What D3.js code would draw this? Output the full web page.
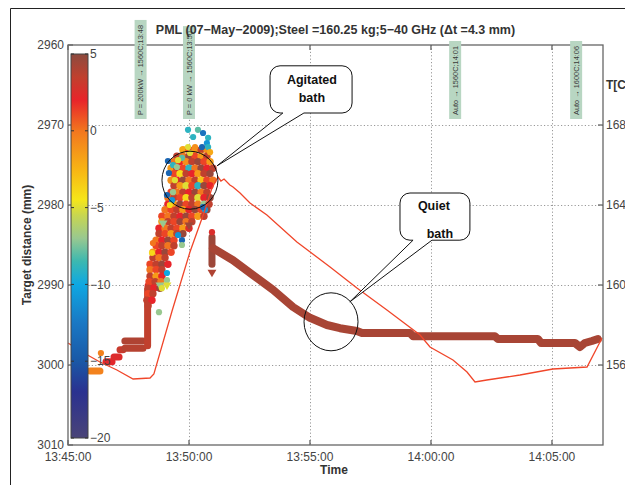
<!DOCTYPE html>
<html lang="en">
<head>
<meta charset="UTF-8">
<title>PML target distance</title>
<script src="https://d3js.org/d3.v7.min.js"></script>
<style>
  body { margin: 0; background: #fff; }
  text { font-family: "Liberation Sans", Arial, sans-serif; }
</style>
</head>
<body>
<script>
// times are minutes after 13:45:00, distances in mm, colour values in colourbar units
const tempTime = [0, 0.66, 1.32, 2.02, 2.69, 3.39, 3.55, 4.30, 5.04, 5.66, 5.95, 6.20, 6.32, 6.45, 6.69, 6.82, 7.11, 7.52, 8.22, 9.46, 10.83, 11.94, 13.18, 14.55, 14.96, 15.91, 16.49, 16.82, 17.31, 18.68, 20.04, 21.45, 22.07];
const tempC = [1571, 1566, 1561.5, 1557.5, 1553, 1553.5, 1555.5, 1587, 1616.5, 1637.5, 1648.5, 1654, 1652, 1653, 1650, 1649, 1646, 1641, 1635, 1621.5, 1609, 1598.5, 1587.5, 1575, 1569, 1562.5, 1556.5, 1551.5, 1552.5, 1555, 1558, 1559, 1573.5];

// quiet bath: thick run of markers after power off
const quietTime = [5.99, 6.82, 7.64, 8.47, 9.30, 10.0, 10.70, 11.24, 11.94, 12.15, 14.13, 14.26, 17.64, 17.77, 19.42, 19.55, 20.95, 21.16, 21.36, 21.65, 21.90];
const quietDist = [2985.4, 2986.9, 2988.75, 2990.6, 2992.75, 2994.1, 2995.0, 2995.4, 2995.75, 2996.0, 2996.0, 2996.4, 2996.4, 2996.75, 2996.75, 2997.25, 2997.25, 2997.75, 2997.25, 2997.0, 2996.75];
const quietValue = 4.2;

// runs of overlapping markers before the stirring: [t0, d0, t1, d1, value]
const steadyRuns = [
  [0.91, 3000.75, 1.32, 3000.75, -0.5],
  [1.57, 2999.6, 1.82, 2999.6, 2.2],
  [1.90, 2999.0, 2.11, 2999.0, 2.4],
  [2.15, 2998.1, 2.27, 2998.1, 3.2],
  [2.35, 2997.0, 3.10, 2997.0, 4],
  [2.35, 2997.9, 3.10, 2997.9, 3.8],
  [3.29, 2997.6, 3.29, 2990.6, 3.5],
  [3.31, 2990.1, 3.47, 2990.1, 2.4],
  [5.95, 2984.0, 5.95, 2987.4, 4.5]
];
// single markers: [t, d, value, shape]
const steadyPts = [
  [1.36, 2998.5, -0.5], [5.95, 2983.4, 2.5], [5.95, 2988.4, 4, "v"], [5.0, 2982.5, 4.5, "v"]
];

// agitated bath cloud, one row per distance: [d, [[t, value], ...]]
const cloudRows = [
  [2973.1, [[4.75,-2],[5.00,1.2],[5.25,-1.5],[5.50,3.5],[5.74,-1]]],
  [2973.9, [[4.50,3.5],[4.75,0],[5.00,4.6],[5.25,1.2],[5.50,-1.5],[5.74,3.5]]],
  [2974.6, [[4.38,0],[4.63,2],[4.88,-1],[5.12,3.5],[5.37,4.6],[5.62,1.2],[5.87,-1.5]]],
  [2975.4, [[4.26,-1.5],[4.50,3.5],[4.75,1.2],[5.00,-9],[5.25,0],[5.50,4.6],[5.74,2],[5.99,3.5]]],
  [2976.1, [[4.38,1.2],[4.63,-4],[4.88,3.5],[5.12,2],[5.37,-1.5],[5.62,3.5],[5.87,4.6]]],
  [2976.9, [[4.26,-1],[4.50,2],[4.75,4.6],[5.00,0],[5.25,3.5],[5.50,-3],[5.74,1.2],[5.99,0]]],
  [2977.6, [[4.38,3.5],[4.63,-1.5],[4.88,-5],[5.12,1.2],[5.37,-9],[5.62,4.6],[5.87,2]]],
  [2978.4, [[4.26,1.2],[4.50,0],[4.75,3.5],[5.00,2],[5.25,4.6],[5.50,0],[5.74,3.5]]],
  [2979.1, [[4.13,0],[4.38,3.5],[4.63,1.2],[4.88,-4],[5.12,3.5],[5.37,-5],[5.62,2],[5.87,4.6]]],
  [2979.9, [[4.13,2],[4.38,-1.5],[4.63,4.6],[4.88,1.2],[5.12,3.5],[5.37,0],[5.62,-7],[5.83,3.5]]],
  [2980.6, [[4.01,0],[4.26,1.2],[4.50,3.5],[4.75,-1.5],[5.00,2],[5.25,4.6],[5.50,1.2],[5.74,4.6]]],
  [2981.4, [[3.88,1.2],[4.13,0],[4.38,3.5],[4.63,2],[4.88,4.6],[5.12,1.2],[5.37,-1.5],[5.62,3.5]]],
  [2982.1, [[3.88,-1.5],[4.13,3.5],[4.38,1.2],[4.63,4.6],[4.88,0],[5.12,3.5]]],
  [2982.9, [[3.76,2],[4.01,0],[4.26,3.5],[4.50,1.2],[4.75,-1.5],[5.00,2.5]]],
  [2983.6, [[3.76,3.5],[4.01,1.2],[4.26,-1.5],[4.50,3.5],[4.75,4.6]]],
  [2984.4, [[3.64,0],[3.88,2],[4.13,4.6],[4.38,1.2]]],
  [2985.1, [[3.64,1.2],[3.88,3.5],[4.13,0],[4.38,3.5]]],
  [2985.9, [[3.51,-1.5],[3.76,2],[4.01,4.6],[4.26,1.2]]],
  [2986.6, [[3.51,3.5],[3.76,0],[4.01,3.5]]],
  [2987.4, [[3.39,1.2],[3.64,3.5],[3.88,4.6],[4.13,2]]],
  [2988.1, [[3.39,0],[3.64,1.2],[3.88,3.5]]],
  [2988.9, [[3.39,3.5],[3.64,-1.5],[3.88,2]]],
  [2989.6, [[3.35,1.2],[3.60,3.5],[3.84,0]]],
  [2990.4, [[3.31,3.5],[3.55,2],[3.80,4.6]]],
  [2991.1, [[3.31,1.2],[3.51,3.5]]],
  [2991.9, [[3.26,3.5],[3.47,2]]],
  [2992.6, [[3.31,3.5]]]
];
// scattered markers around the cloud: [t, d, value, shape]
const outliers = [
  [4.96,2970.6,-9],[5.17,2971.5,-9],[5.37,2970.6,-8],[5.58,2971.0,-13],[5.79,2971.6,-9],
  [5.74,2972.25,-11],[5.54,2972.75,-14],[4.96,2972.75,-5],[5.25,2972.75,-1],[5.79,2972.75,-9],
  [5.87,2973.4,-2],[4.71,2974.1,-8],[5.04,2973.5,-5],[4.13,2974.5,-14],[4.34,2975.0,-9],
  [4.55,2974.4,-5],[4.17,2976.0,-14],[4.42,2976.9,-5],[4.50,2975.25,-7],[4.09,2978.75,-14],
  [4.34,2978.4,-7],[4.30,2979.4,-11],[4.21,2980.0,-4],[5.66,2980.6,-11],[5.58,2980.25,-14],
  [4.55,2983.75,-11],[4.71,2984.4,-14],[4.71,2985.0,-7],[3.93,2982.25,-7,"v"],[4.09,2988.5,-10],
  [4.09,2989.4,-7],[4.09,2990.0,-5,"v"],[3.80,2990.0,-7,"v"],[3.88,2990.4,-5],[3.76,2993.4,-7],
  [3.47,2986.0,-4],[3.51,2984.75,0]
];

const timeTicks = ["13:45:00", "13:50:00", "13:55:00", "14:00:00", "14:05:00"];
const distTicks = [2960, 2970, 2980, 2990, 3000, 3010];
const tempTicks = [1560, 1600, 1640, 1680];
const cbarTicks = [5, 0, -5, -10, -15, -20];
const tagTimes = ["13:48", "13:50", "14:01", "14:06"];
const tagLabels = ["P = 200kW \u2192 1560C;13:48", "P = 0 kW \u2192 1560C;13:50", "Auto \u2192 1560C;14:01", "Auto \u2192 1600C;14:06"];

// colour map of the colourbar
const cStops = [5, 3.5, 2, 0, -2.5, -4.5, -5.5, -7, -8.5, -10, -12.5, -15, -17, -20];
const cCols = ["#8c4a3e", "#c0402e", "#e8242a", "#f2761f", "#f8b414", "#f5e61a", "#c8d650", "#98c890", "#3cb8b0", "#0ea8e2", "#1a78c4", "#1a58a6", "#2a3190", "#4a4478"];

const W = 625, H = 485;
const svg = d3.select("body").append("svg").attr("width", W).attr("height", H);

const parseHMS = d3.timeParse("%H:%M:%S");
const parseHM = d3.timeParse("%H:%M");
const t0 = parseHMS("13:45:00");
const tm = m => new Date(+t0 + m * 60000);

const x = d3.scaleTime().domain([t0, tm(22.11)]).range([68, 603]);
const y = d3.scaleLinear().domain([2960, 3010]).range([45, 445]);
const yT = d3.scaleLinear().domain([1720, 1520]).range([45, 445]);
const cbY = d3.scaleLinear().domain([5, -20]).range([54, 438]);
const colour = d3.scaleLinear().domain(cStops).range(cCols).clamp(true);

const [X0, X1] = x.range();
const [Y0, Y1] = y.range();

// grid
const grid = svg.append("g").attr("stroke", "#999").attr("stroke-dasharray", "1.2,2.2").attr("stroke-width", 1);
grid.selectAll(".gh").data(distTicks.slice(1, -1)).enter().append("line")
  .attr("x1", X0).attr("x2", X1).attr("y1", d => y(d) + 0.5).attr("y2", d => y(d) + 0.5);
grid.selectAll(".gv").data(timeTicks.slice(1)).enter().append("line")
  .attr("x1", d => Math.round(x(parseHMS(d))) + 0.5).attr("x2", d => Math.round(x(parseHMS(d))) + 0.5)
  .attr("y1", Y0).attr("y2", Y1);

// steady runs
svg.append("g").selectAll("line").data(steadyRuns).enter().append("line")
  .attr("x1", d => x(tm(d[0]))).attr("y1", d => y(d[1]))
  .attr("x2", d => x(tm(d[2]))).attr("y2", d => y(d[3]))
  .attr("stroke", d => colour(d[4])).attr("stroke-width", 7).attr("stroke-linecap", "round");

// quiet bath band
const quiet = quietTime.map((t, i) => [t, quietDist[i]]);
svg.append("path").datum(quiet)
  .attr("fill", "none").attr("stroke", colour(quietValue)).attr("stroke-width", 8)
  .attr("stroke-linejoin", "round").attr("stroke-linecap", "round")
  .attr("d", d3.line().x(d => x(tm(d[0]))).y(d => y(d[1])));

const tri = d3.symbol().type(d3.symbolTriangle).size(34);
function drawMarkers(g, pts, r) {
  g.selectAll("g").data(pts).enter().each(function (d) {
    const s = d3.select(this);
    if (d[3] === "v") {
      s.append("path").attr("d", tri)
        .attr("transform", `translate(${x(tm(d[0]))},${y(d[1])}) rotate(180)`)
        .attr("fill", colour(d[2]));
    } else {
      s.append("circle").attr("cx", x(tm(d[0]))).attr("cy", y(d[1])).attr("r", r)
        .attr("fill", colour(d[2]));
    }
  });
}

const cloud = cloudRows.flatMap(r => r[1].map(p => [p[0], r[0], p[1]]));
drawMarkers(svg.append("g"), cloud, 3.7);
drawMarkers(svg.append("g"), outliers, 3.1);
drawMarkers(svg.append("g"), steadyPts, 3.1);

// temperature
const temp = tempTime.map((t, i) => [t, tempC[i]]);
svg.append("path").datum(temp)
  .attr("fill", "none").attr("stroke", "#f0462a").attr("stroke-width", 1.3)
  .attr("d", d3.line().x(d => x(tm(d[0]))).y(d => yT(d[1])));

// axes box
const ax = svg.append("g").attr("stroke", "#666").attr("stroke-width", 1.3);
ax.append("rect").attr("x", X0).attr("y", Y0).attr("width", X1 - X0).attr("height", Y1 - Y0).attr("fill", "none");
ax.selectAll(".tx").data(timeTicks).enter().append("line")
  .attr("x1", d => x(parseHMS(d))).attr("x2", d => x(parseHMS(d))).attr("y1", Y1).attr("y2", Y1 - 5);
ax.selectAll(".tt").data(timeTicks).enter().append("line")
  .attr("x1", d => x(parseHMS(d))).attr("x2", d => x(parseHMS(d))).attr("y1", Y0).attr("y2", Y0 + 5);
ax.selectAll(".ty").data(distTicks).enter().append("line")
  .attr("x1", X0).attr("x2", X0 + 5).attr("y1", d => y(d)).attr("y2", d => y(d));
ax.selectAll(".tr").data(tempTicks).enter().append("line")
  .attr("x1", X1 - 5).attr("x2", X1).attr("y1", d => yT(d)).attr("y2", d => yT(d));

const lab = svg.append("g").attr("font-size", 12).attr("fill", "#444");
lab.selectAll(".lx").data(timeTicks).enter().append("text")
  .attr("x", d => x(parseHMS(d))).attr("y", 461).attr("text-anchor", "middle").text(d => d);
lab.selectAll(".ly").data(distTicks).enter().append("text")
  .attr("x", X0 - 4).attr("y", d => y(d)).attr("dy", "0.35em").attr("text-anchor", "end").text(d => d);
lab.selectAll(".lr").data(tempTicks).enter().append("text")
  .attr("x", X1 + 3).attr("y", d => yT(d)).attr("dy", "0.35em").text(d => d);

// colourbar
const defs = svg.append("defs");
const grad = defs.append("linearGradient").attr("id", "cbar").attr("x1", 0).attr("y1", 0).attr("x2", 0).attr("y2", 1);
grad.selectAll("stop").data(cStops).enter().append("stop")
  .attr("offset", d => (cbY(d) - cbY(5)) / (cbY(-20) - cbY(5)))
  .attr("stop-color", d => colour(d));
const cbx = 71, cbw = 17;
svg.append("rect").attr("x", cbx).attr("y", cbY(5)).attr("width", cbw).attr("height", cbY(-20) - cbY(5))
  .attr("fill", "url(#cbar)").attr("stroke", "#444").attr("stroke-width", 1);
const cbt = svg.append("g").attr("stroke", "#333");
cbt.selectAll(".a").data(cbarTicks).enter().append("line")
  .attr("x1", cbx).attr("x2", cbx + 3).attr("y1", d => cbY(d)).attr("y2", d => cbY(d));
cbt.selectAll(".b").data(cbarTicks).enter().append("line")
  .attr("x1", cbx + cbw - 3).attr("x2", cbx + cbw).attr("y1", d => cbY(d)).attr("y2", d => cbY(d));
lab.selectAll(".lc").data(cbarTicks).enter().append("text")
  .attr("x", cbx + cbw + 2).attr("y", d => cbY(d)).attr("dy", "0.35em")
  .text(d => d < 0 ? "\u2212" + Math.abs(d) : d);

// event tags
const tagBottom = 119;
tagTimes.forEach((s, i) => {
  const cx = x(parseHM(s));
  const g = svg.append("g");
  const r = g.append("rect").attr("fill", "#b8d6c2");
  const t = g.append("text").attr("transform", `translate(${cx + 2.6},${tagBottom - 4}) rotate(-90)`)
    .attr("font-size", 7.4).attr("fill", "#3a3a3a").text(tagLabels[i]);
  const len = t.node().getComputedTextLength();
  r.attr("x", cx - 6).attr("width", 12).attr("y", tagBottom - len - 9).attr("height", len + 9);
});

// title, over the tags
svg.append("text").attr("x", 335.5).attr("y", 34).attr("text-anchor", "middle")
  .attr("font-size", 12.5).attr("font-weight", "bold").attr("fill", "#333")
  .text("PML (07\u2212May\u22122009);Steel =160.25 kg;5\u221240 GHz (\u0394t =4.3 mm)");

// annotations
const ann = svg.append("g").attr("fill", "none").attr("stroke", "#111").attr("stroke-width", 1);
ann.append("ellipse").attr("cx", x(tm(5.04))).attr("cy", y(2976.9)).attr("rx", 28).attr("ry", 29);
ann.append("ellipse").attr("cx", x(tm(10.87))).attr("cy", y(2994.6)).attr("rx", 27).attr("ry", 29);

function callout(t0_, t1_, d0, d1, b1, b2, tipT, tipD) {
  const xa = x(tm(t0_)), xb = x(tm(t1_)), ya = y(d0), yb = y(d1), r = 10;
  const p = d3.path();
  p.moveTo(xa + r, ya);
  p.lineTo(xb - r, ya);
  p.arcTo(xb, ya, xb, ya + r, r);
  p.lineTo(xb, yb - r);
  p.arcTo(xb, yb, xb - r, yb, r);
  p.lineTo(x(tm(b2)), yb);
  p.lineTo(x(tm(tipT)), y(tipD));
  p.lineTo(x(tm(b1)), yb);
  p.lineTo(xa + r, yb);
  p.arcTo(xa, yb, xa, yb - r, r);
  p.lineTo(xa, ya + r);
  p.arcTo(xa, ya, xa + r, ya, r);
  p.closePath();
  return p.toString();
}
ann.append("path").attr("fill", "#fff").attr("d", callout(8.35, 11.74, 2962.6, 2968.5, 8.88, 9.75, 6.16, 2975.1));
ann.append("path").attr("fill", "#fff").attr("d", callout(13.72, 16.61, 2978.5, 2984.4, 14.26, 15.04, 11.65, 2992.1));

const at = svg.append("g").attr("font-size", 12.5).attr("font-weight", "bold").attr("fill", "#111").attr("text-anchor", "middle");
at.append("text").attr("x", x(tm(10.08))).attr("y", y(2964.9)).text("Agitated");
at.append("text").attr("x", x(tm(10.08))).attr("y", y(2967.1)).text("bath");
at.append("text").attr("x", x(tm(15.12))).attr("y", y(2980.6)).text("Quiet");
at.append("text").attr("x", x(tm(15.37))).attr("y", y(2984.1)).text("bath");

// axis titles
const tl = svg.append("g").attr("font-size", 12).attr("font-weight", "bold").attr("fill", "#333");
tl.append("text").attr("transform", `translate(31,${(Y0 + Y1) / 2}) rotate(-90)`).attr("text-anchor", "middle").text("Target distance (mm)");
tl.append("text").attr("x", 334).attr("y", 474).attr("text-anchor", "middle").text("Time");
tl.append("text").attr("x", X1 + 3).attr("y", 89).text("T[C]");

// figure frame
svg.append("path").attr("d", `M10.5,${H} V8.5 H${W}`).attr("fill", "none").attr("stroke", "#222").attr("stroke-width", 1);
</script>
</body>
</html>
